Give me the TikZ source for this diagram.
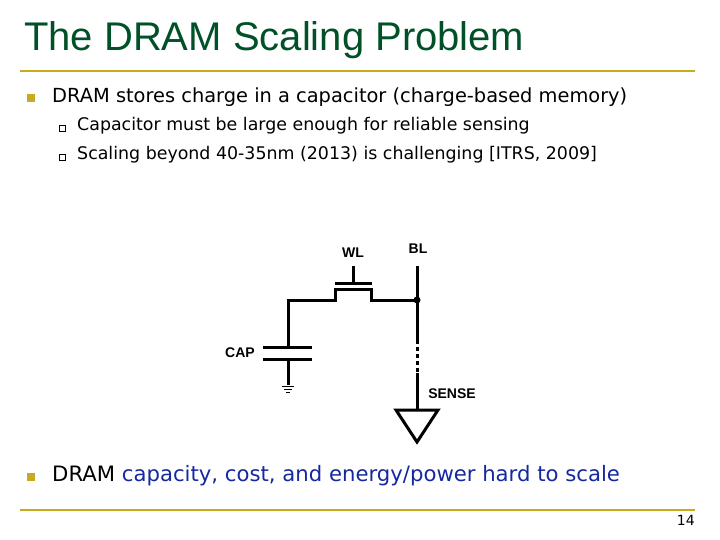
\documentclass[tikz,border=0pt]{standalone}
\usepackage{fontspec}
\setmainfont{DejaVu Sans}
\newfontfamily\titlefont{Liberation Sans}
\newfontfamily\labfont{Liberation Sans}
\definecolor{tgreen}{RGB}{0,80,40}
\definecolor{olive}{RGB}{200,170,30}
\definecolor{bblue}{RGB}{20,40,160}
\begin{document}
\begin{tikzpicture}[x=1pt,y=-1pt,
  wire/.style={line width=3pt},
  lab/.style={font=\labfont\bfseries\fontsize{14}{14}\selectfont},
  txt/.style={anchor=west,inner sep=0pt},
  bul/.style={fill=olive,minimum size=8pt,inner sep=0pt},
  sbul/.style={draw=black,fill=white,line width=0.5pt,minimum size=6pt,inner sep=0pt}]
\useasboundingbox (0,0) rectangle (720,540);
\node[txt,text=tgreen,font=\titlefont\fontsize{40}{40}\selectfont] (title) at (24,40) {The DRAM Scaling Problem};
\draw[olive,line width=2pt] (20,71) -- (695,71);
\draw[olive,line width=2pt] (20,510) -- (695,510);
\node[bul] (b1) at (31,98) {};
\node[txt,font=\fontsize{19.4}{20}\selectfont] (t1) at (52,97) {DRAM stores charge in a capacitor (charge-based memory)};
\node[sbul] (s1) at (62,128) {};
\node[txt,font=\fontsize{17.4}{18}\selectfont] (t2) at (77,126) {Capacitor must be large enough for reliable sensing};
\node[sbul] (s2) at (62,157) {};
\node[txt,font=\fontsize{17.4}{18}\selectfont] (t3) at (77,155) {Scaling beyond 40-35nm (2013) is challenging [ITRS, 2009]};
\node[bul] (b2) at (31,477) {};
\node[txt,font=\fontsize{21.2}{22}\selectfont] (t4) at (52,476) {DRAM \textcolor{bblue}{capacity, cost, and energy/power hard to scale}};
\node[anchor=east,inner sep=0pt,font=\fontsize{14}{14}\selectfont] (pg) at (695,520) {14};
% circuit
\coordinate (blt) at (417,266);
\coordinate (dot) at (417,300);
\coordinate (d1) at (417,340);
\coordinate (d2) at (417,373);
\coordinate (tri) at (417,410);
\draw[wire] (blt) -- (dot) -- (d1);
\draw[wire,dash pattern=on 4pt off 3pt] (d1) -- (d2);
\draw[wire] (d2) -- (tri);
\fill (dot) circle (3.5pt);
\draw[wire,line join=miter] (396,410) -- (438,410) -- (417,442) -- cycle;
\draw[wire] (dot) -- (371,300) -- (371,289) -- (335,289) -- (335,300) -- (288,300) -- (288,347);
\draw[wire] (335,283) -- (372,283);
\draw[wire] (353,266) -- (353,283);
\draw[wire] (263,347) -- (312,347);
\draw[wire] (263,359) -- (312,359);
\draw[wire] (288,359) -- (288,385);
\draw[line width=0.8pt] (282,386) -- (294,386) (284,389) -- (292,389) (286,392) -- (290,392);
\node[lab] (wl) at (353,253) {WL};
\node[lab] (bl) at (418,249) {BL};
\node[lab] (cap) at (240,353) {CAP};
\node[lab] (sense) at (452,394) {SENSE};
\end{tikzpicture}
\end{document}
